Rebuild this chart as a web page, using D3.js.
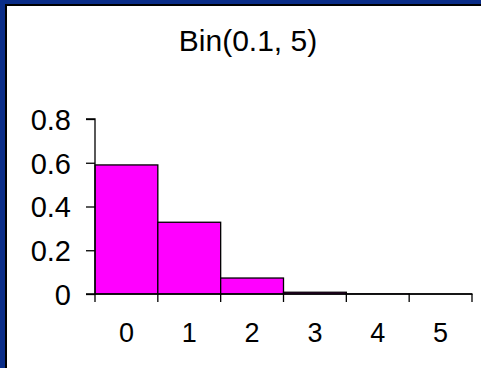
<!DOCTYPE html>
<html>
<head>
<meta charset="utf-8">
<script src="https://cdn.jsdelivr.net/npm/d3@7"></script>
<style>
  html, body { margin: 0; padding: 0; background: #0a2d88; }
  svg { display: block; }
</style>
</head>
<body>
<svg id="chart" width="481" height="368"></svg>
<script>
const title = "Bin(0.1, 5)";
const categories = ["0", "1", "2", "3", "4", "5"];
const probabilities = [0.59, 0.328, 0.073, 0.008, 0.0005, 0.00001];
const yTicks = [0, 0.2, 0.4, 0.6, 0.8];

(function () {
const svg = d3.select("#chart");
const W = 481, H = 368;

// frame
svg.append("rect").attr("x", 0).attr("y", 0).attr("width", W).attr("height", H).attr("fill", "#0a2d88");
svg.append("rect").attr("x", 5).attr("y", 4).attr("width", W - 5).attr("height", H - 4).attr("fill", "#000");
svg.append("rect").attr("x", 7).attr("y", 6).attr("width", W - 7).attr("height", H - 6).attr("fill", "#fff");

const pLeft = 95, pRight = 472, pTop = 119, pBottom = 294;

const x = d3.scaleBand().domain(categories).range([pLeft, pRight]).padding(0);
const y = d3.scaleLinear().domain([0, 0.8]).range([pBottom, pTop]);

const font = "'Liberation Sans', Arial, sans-serif";

svg.append("text")
  .attr("x", 248).attr("y", 51)
  .attr("text-anchor", "middle")
  .attr("font-family", font).attr("font-size", 30)
  .attr("fill", "#000")
  .text(title);

// bars
svg.append("g").selectAll("rect").data(categories).join("rect")
  .attr("x", d => x(d))
  .attr("y", (d, i) => y(probabilities[i]))
  .attr("width", x.bandwidth())
  .attr("height", (d, i) => pBottom - y(probabilities[i]))
  .attr("fill", "#ff00ff")
  .attr("stroke", "#000")
  .attr("stroke-width", 1.3);

// y axis
const yAxis = d3.axisLeft(y).tickValues(yTicks).tickSize(9).tickPadding(15)
  .tickFormat(d => d === 0 ? "0" : d3.format(".1f")(d));
const gy = svg.append("g").attr("transform", `translate(${pLeft},0)`).call(yAxis);
gy.select(".domain").attr("d", `M-9,${pTop}H0V${pBottom}H-9`).attr("stroke", "#000").attr("stroke-width", 1.3);
gy.selectAll(".tick line").attr("stroke", "#000").attr("stroke-width", 1.3);
gy.selectAll(".tick text").attr("font-family", font).attr("font-size", 29).attr("fill", "#000").attr("dy", "0.36em");

// x axis
const boundaries = categories.map(c => x(c)).concat([x(categories[categories.length - 1]) + x.bandwidth()]);
const gx = svg.append("g").attr("transform", `translate(0,${pBottom})`);
gx.append("line").attr("x1", pLeft).attr("x2", pRight).attr("y1", 0).attr("y2", 0)
  .attr("stroke", "#000").attr("stroke-width", 1.3);
gx.selectAll("line.tk").data(boundaries).join("line").attr("class", "tk")
  .attr("x1", d => d).attr("x2", d => d).attr("y1", 0).attr("y2", 8)
  .attr("stroke", "#000").attr("stroke-width", 1.3);
gx.selectAll("text").data(categories).join("text")
  .attr("x", d => x(d) + x.bandwidth() / 2)
  .attr("y", 48)
  .attr("text-anchor", "middle")
  .attr("font-family", font).attr("font-size", 27).attr("fill", "#000")
  .text(d => d);
})();
</script>
</body>
</html>
